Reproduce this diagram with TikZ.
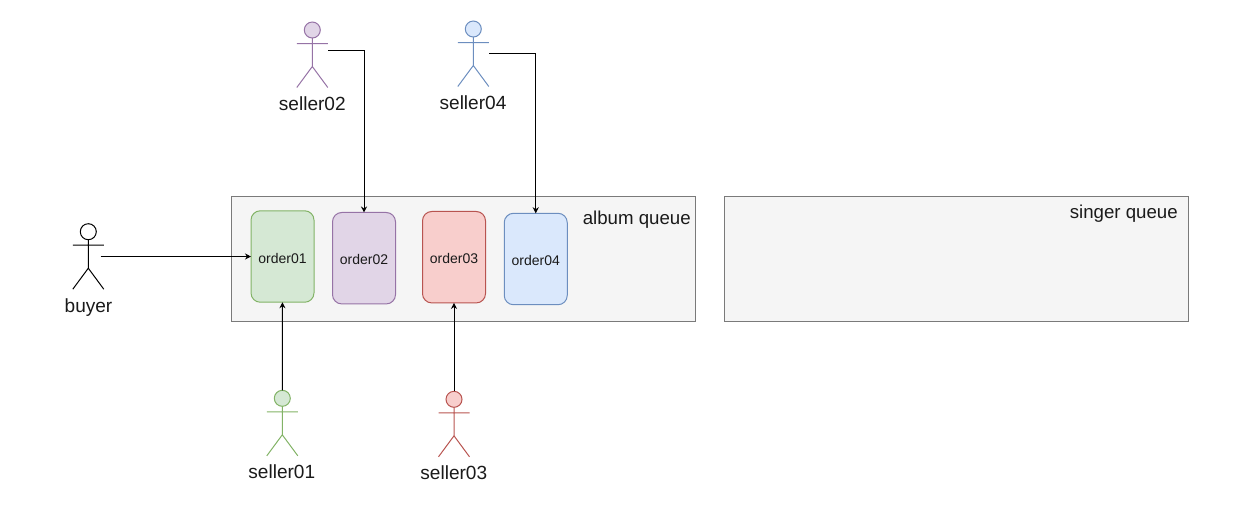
\documentclass[tikz,border=0pt]{standalone}
\usepackage{fontspec}
\setmainfont{Liberation Sans}
\usepackage{xcolor}
\usetikzlibrary{arrows.meta,positioning,calc}
\definecolor{greenfill}{HTML}{D5E8D4}
\definecolor{greenline}{HTML}{82B366}
\definecolor{purplefill}{HTML}{E1D5E7}
\definecolor{purpleline}{HTML}{9673A6}
\definecolor{redfill}{HTML}{F8CECC}
\definecolor{redline}{HTML}{B85450}
\definecolor{bluefill}{HTML}{DAE8FC}
\definecolor{blueline}{HTML}{6C8EBF}
\definecolor{queuefill}{HTML}{F5F5F5}
\definecolor{queueline}{HTML}{7A7A7A}
\definecolor{textcol}{HTML}{1A1A1A}
\tikzset{
    queue/.style={shape=rectangle,draw=queueline,fill=queuefill,line width=.75pt,minimum width=348pt,minimum height=93.75pt,inner sep=0pt,outer sep=0pt},
    queuelabel/.style={anchor=base east,inner sep=0pt,text=textcol,font=\fontsize{14pt}{16pt}\selectfont},
    order/.style={shape=rectangle,rounded corners=7pt,line width=.75pt,minimum width=47.25pt,minimum height=68.6pt,inner sep=0pt,outer sep=0pt,text height=10pt,text depth=0pt,text=textcol,font=\fontsize{10.5pt}{12pt}\selectfont},
    actorlabel/.style={anchor=base,inner sep=0pt,text=textcol,font=\fontsize{14.3pt}{16pt}\selectfont},
    link/.style={draw=black,line width=.75pt,-{Stealth[length=4.5pt,width=4.5pt]}},
    pics/actor/.style n args={2}{code={
        \node[shape=circle,draw=#1,fill=#2,line width=.75pt,minimum size=12pt,inner sep=0pt,outer sep=0pt] (-head) at (0,0) {};
        \draw[#1,line width=.75pt] (-head.south) -- (0,36.5) (-15.5,13.5) -- (15.5,13.5) (-15.5,57.5) -- (0,36.5) -- (15.5,57.5);
    }}
}
\begin{document}
\begin{tikzpicture}[x=.75pt,y=-.75pt]
    \useasboundingbox (0,0) rectangle (1249,512);
    \node[queue] (album) at (463.5,258.5) {};
    \node[queue] (singer) at (956.5,258.5) {};
    \node[queuelabel] (albumlabel) at (691,224) {album queue};
    \node[queuelabel] (singerlabel) at (1178,218) {singer queue};
    \node[order,draw=greenline,fill=greenfill] (order01) at (282.5,256.5) {order01};
    \node[order,draw=purpleline,fill=purplefill] (order02) at (364,258.2) {order02};
    \node[order,draw=redline,fill=redfill] (order03) at (454,257.2) {order03};
    \node[order,draw=blueline,fill=bluefill] (order04) at (535.75,259) {order04};
    \pic (buyer) at (88.3,231.7) {actor={black}{white}};
    \pic (seller01) at (282.3,398.3) {actor={greenline}{greenfill}};
    \pic (seller02) at (312.3,30) {actor={purpleline}{purplefill}};
    \pic (seller03) at (454,399.3) {actor={redline}{redfill}};
    \pic (seller04) at (473.3,29) {actor={blueline}{bluefill}};
    \node[actorlabel] (buyerlabel) at (88.5,312.2) {buyer};
    \node[actorlabel] (seller01label) at (281.8,478) {seller01};
    \node[actorlabel] (seller02label) at (312.3,110) {seller02};
    \node[actorlabel] (seller03label) at (453.8,479) {seller03};
    \node[actorlabel] (seller04label) at (473,109) {seller04};
    \coordinate (buyerout) at (100.7,256.5);
    \coordinate (seller02out) at (328.3,50.7);
    \coordinate (seller04out) at (489,53.7);
    \path [link] (buyerout) -- (order01);
    \path [link] (seller01-head) -- (order01);
    \path [link] (seller02out) -| (order02);
    \path [link] (seller03-head) -- (order03);
    \path [link] (seller04out) -| (order04);
\end{tikzpicture}
\end{document}
